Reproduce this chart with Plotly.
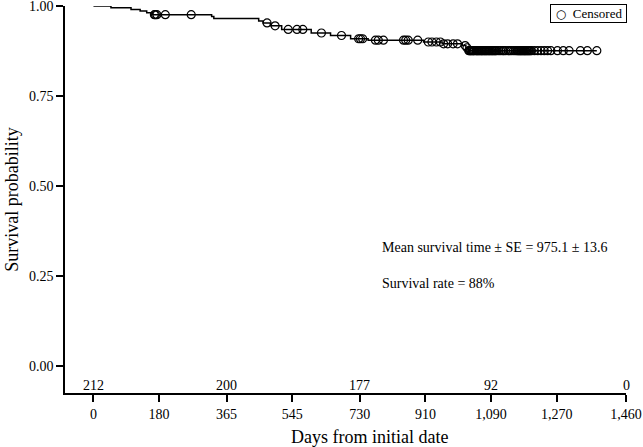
import numpy as np
import plotly.graph_objects as go

# Kaplan-Meier step curve
step_days = [0, 48, 103, 128, 146, 162, 324, 330, 453, 465, 485, 516, 597, 650,
             705, 753, 905, 956, 1011, 1021, 1028]
step_surv = [1.0, 0.995, 0.990, 0.986, 0.981, 0.976, 0.971, 0.965, 0.958, 0.953,
             0.945, 0.935, 0.925, 0.918, 0.909, 0.905, 0.900, 0.895, 0.890, 0.884, 0.876]

censor_days = [167, 170, 174, 197, 268,
               476, 498, 534, 558, 574, 625, 680,
               727, 732, 738, 773, 781, 795, 850, 856, 863, 889,
               918, 928, 940, 951, 960, 971, 986, 998, 1019, 1024,
               1029, 1031, 1034, 1035, 1038, 1041, 1042, 1045, 1049, 1051, 1053, 1056,
               1058, 1061, 1064, 1065, 1068, 1071, 1073, 1076, 1078, 1081, 1084, 1086,
               1089, 1092, 1094, 1097, 1100, 1102, 1105,
               1111, 1116, 1122, 1125, 1130, 1137, 1141, 1146, 1152, 1157, 1161,
               1164, 1166, 1169, 1171, 1173, 1176, 1178, 1181, 1183, 1185, 1188, 1190,
               1193, 1195, 1198, 1201,
               1209, 1218, 1227, 1236, 1245, 1254,
               1272, 1288, 1304, 1335, 1354, 1380]

risk_days = [0, 365, 730, 1090, 1460]
at_risk = [212, 200, 177, 92, 0]

x_ticks = [0, 180, 365, 545, 730, 910, 1090, 1270, 1460]
y_ticks = [0, 0.25, 0.5, 0.75, 1.0]

# censored marks sit on the curve
idx = np.searchsorted(step_days, censor_days, side="right") - 1
censor_surv = [step_surv[i] for i in idx]

line_x = step_days + [censor_days[-1]]
line_y = step_surv + [step_surv[-1]]

font = "Liberation Serif"

fig = go.Figure()
fig.add_trace(go.Scatter(x=line_x, y=line_y, mode="lines", line_shape="hv",
                         line=dict(color="black", width=1.5), showlegend=False,
                         hoverinfo="skip"))
fig.add_trace(go.Scatter(x=censor_days, y=censor_surv, mode="markers", name="Censored",
                         showlegend=False,
                         marker=dict(symbol="circle-open", size=8, color="black",
                                     line=dict(width=1.2, color="black"))))

for d, n in zip(risk_days, at_risk):
    fig.add_annotation(x=d, y=-0.053, text=str(n), showarrow=False,
                       font=dict(family=font, size=14, color="black"))

fig.add_annotation(x=0.5615, xref="paper", y=0.377, yref="paper", xanchor="left",
                   text="Mean survival time ± SE = 975.1 ± 13.6", showarrow=False,
                   font=dict(family=font, size=14, color="black"))
fig.add_annotation(x=0.5615, xref="paper", y=0.258, yref="paper", xanchor="left",
                   text="Survival rate = 88%", showarrow=False,
                   font=dict(family=font, size=14, color="black"))

# x axis title sits a little right of the plot centre in the original
fig.add_annotation(x=0.542, xref="paper", y=-0.1137, yref="paper", yanchor="middle",
                   text="Days from initial date", showarrow=False,
                   font=dict(family=font, size=18, color="black"))

# legend box
fig.add_annotation(x=1.002, xref="paper", y=1.005, yref="paper",
                   xanchor="right", yanchor="top", showarrow=False,
                   text="<span style='font-family:DejaVu Sans;font-size:12px'> ○</span>  Censored ",
                   bordercolor="black", borderwidth=1, borderpad=1, bgcolor="white",
                   font=dict(family=font, size=13, color="black"))

fig.update_xaxes(range=[-78, 1460], tickvals=x_ticks, tickformat=",d",
                 showline=True, linecolor="black", linewidth=1.5,
                 ticks="outside", ticklen=7, tickwidth=1.5, tickcolor="black",
                 showgrid=False, zeroline=False, tickfont=dict(size=14),
                 ticklabeloverflow="allow", automargin=False)
fig.update_yaxes(range=[-0.075, 1.0], tickvals=y_ticks, tickformat=".2f",
                 showline=True, linecolor="black", linewidth=1.5,
                 ticks="outside", ticklen=7, tickwidth=1.5, tickcolor="black",
                 showgrid=False, zeroline=False, tickfont=dict(size=14),
                 ticklabeloverflow="allow", automargin=False,
                 title=dict(text="Survival probability", font=dict(size=18), standoff=6))

fig.update_layout(width=643, height=447, plot_bgcolor="white", paper_bgcolor="white",
                  margin=dict(l=65, r=17, t=6, b=54),
                  font=dict(family=font, size=14, color="black"),
                  showlegend=False)

fig.write_html("out.html", config={"displayModeBar": False},
               post_script="document.body.style.margin='0';document.body.style.overflow='hidden';")
